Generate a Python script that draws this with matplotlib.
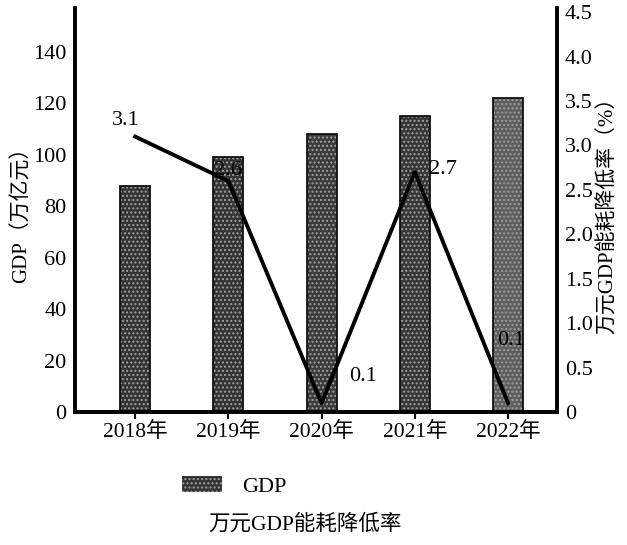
import numpy as np
import matplotlib.pyplot as plt
from matplotlib.patches import Patch

plt.rcParams['font.family'] = ['Liberation Serif', 'Noto Sans CJK SC']
plt.rcParams['hatch.linewidth'] = 1.0

years = ['2018年', '2019年', '2020年', '2021年', '2022年']
gdp = [88, 99, 108, 115, 122]
rate = [3.1, 2.6, 0.1, 2.7, 0.1]
rate_labels = ['3.1', '2.6', '0.1', '2.7', '0.1']

fig = plt.figure(figsize=(6.27, 5.45), dpi=100)
ax1 = fig.add_axes([0.1196, 0.244, 0.768, 0.741])
ax2 = ax1.twinx()

x = np.arange(len(years))
bar_colors = ['#333333', '#333333', '#3a3a3a', '#363636', '#5e5e5e']
# texture first, outline on top
ax1.bar(x, gdp, width=0.32, color=bar_colors, edgecolor='#a0a0a0', hatch='....', linewidth=0)
ax1.bar(x, gdp, width=0.32, fill=False, edgecolor='#111111', linewidth=1.3)

ax1.set_xlim(-0.645, 4.52)
ax1.set_ylim(0, 157)
ax1.set_yticks(range(0, 141, 20))
ax1.set_xticks(x)
ax1.set_xticklabels(years, fontsize=15.5)
ax1.tick_params(axis='y', length=0, labelsize=16, pad=6)
ax1.tick_params(axis='x', length=5, width=1.5, pad=2)
ax1.set_ylabel('GDP（万亿元）', fontsize=15, labelpad=1)

ax2.plot(x, rate, color='black', linewidth=2.8)
ax2.set_ylim(0, 4.545)
ax2.set_yticks(np.arange(0, 4.51, 0.5))
ax2.set_yticklabels(['0', '0.5', '1.0', '1.5', '2.0', '2.5', '3.0', '3.5', '4.0', '4.5'])
ax2.tick_params(axis='y', length=0, labelsize=16, pad=6)
ax2.set_ylabel('万元GDP能耗降低率（%）', fontsize=15, labelpad=4)

offsets = [(-0.1, 0.18), (0.0, 0.12), (0.45, 0.3), (0.3, 0.03), (0.03, 0.7)]
for xi, yi, lab, (dx, dy) in zip(x, rate, rate_labels, offsets):
    ax2.text(xi + dx, yi + dy, lab, fontsize=16, ha='center', va='center')

for ax in (ax1, ax2):
    ax.spines['top'].set_visible(False)
    for s in ('left', 'right', 'bottom'):
        ax.spines[s].set_linewidth(2.6)

fig.legend(handles=[Patch(facecolor='#333333', edgecolor='#a0a0a0', hatch='....', linewidth=0)],
           labels=['GDP'], loc='center left', bbox_to_anchor=(0.258, 0.107),
           frameon=False, fontsize=16, handlelength=1.8, handleheight=0.7, handletextpad=0.9)
fig.text(0.486, 0.037, '万元GDP能耗降低率', fontsize=15.5, ha='center', va='center')

fig.savefig('out.png', dpi=100)
